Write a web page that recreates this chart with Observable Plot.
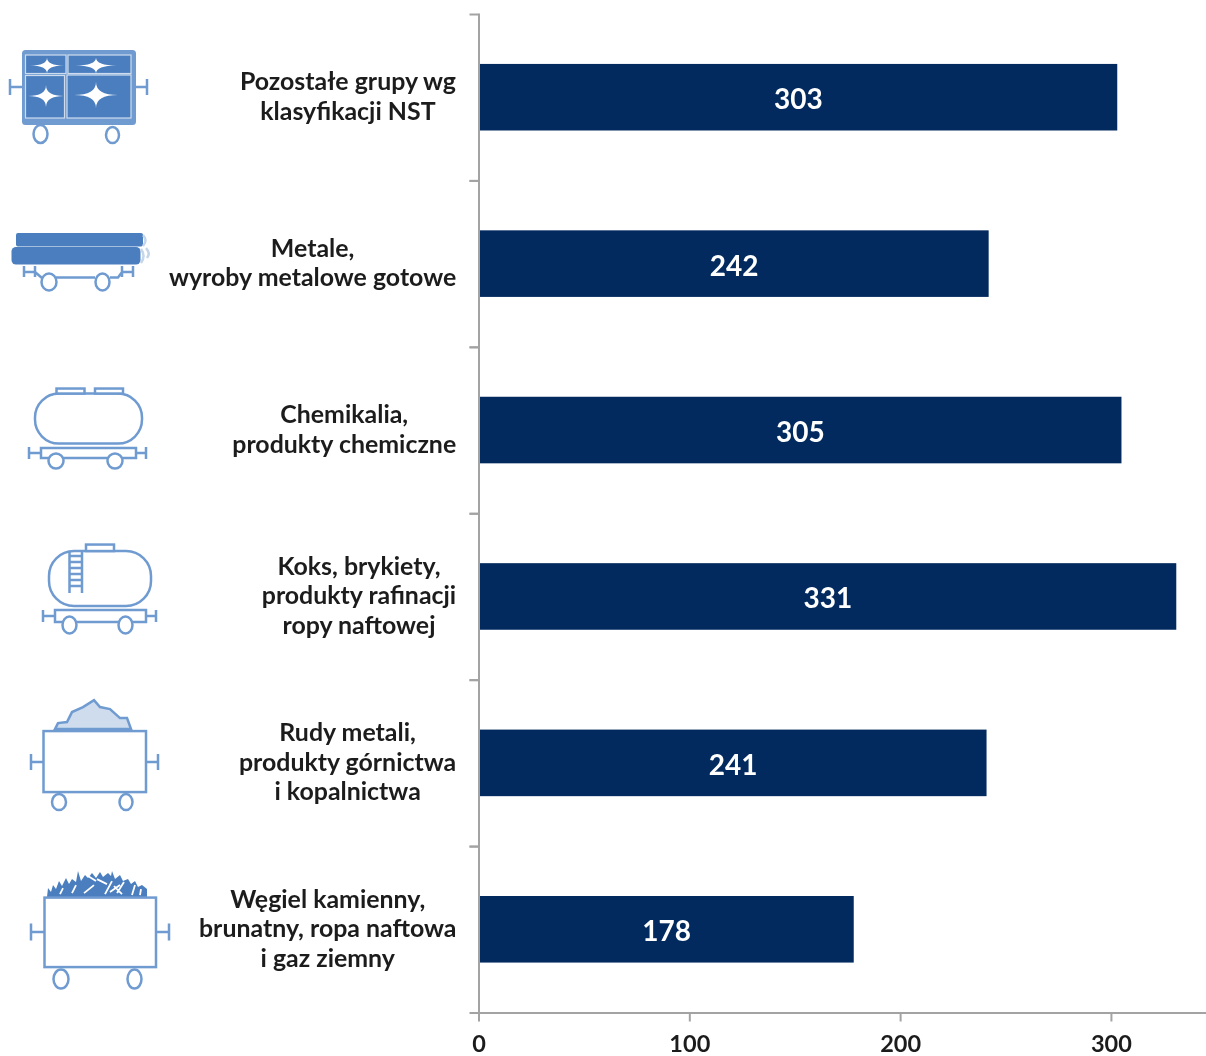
<!DOCTYPE html>
<html><head><meta charset="utf-8">
<script src="https://cdn.jsdelivr.net/npm/d3@7"></script>
<script src="https://cdn.jsdelivr.net/npm/@observablehq/plot@0.6"></script>
<style>html,body{margin:0;padding:0;background:#fff}svg{display:block;filter:blur(0.45px)}</style>
</head><body><div id="chart"></div>
<script>
const categories = ["other","metals","chem","coke","ore","coal"];
const values = [303,242,305,331,241,178];
const labelLines = [
  ["Pozostałe grupy wg","klasyfikacji NST"],
  ["Metale,","wyroby metalowe gotowe"],
  ["Chemikalia,","produkty chemiczne"],
  ["Koks, brykiety,","produkty rafinacji","ropy naftowej"],
  ["Rudy metali,","produkty górnictwa","i kopalnictwa"],
  ["Węgiel kamienny,","brunatny, ropa naftowa","i gaz ziemny"]
];
const xTicks = [0,100,200,300];

const FONT = "Lato, Carlito, sans-serif";
const L = "#6f9bd1", D = "#4a7ebf";
const wheel = (x,y,rx,ry)=>`<ellipse cx="${x}" cy="${y}" rx="${rx}" ry="${ry}" fill="#fff"/>`;
const coupler = (x0,x1,y,h)=>`<path d="M${x0} ${y}H${x1}M${x0} ${y-h}V${y+h}"/>`;
const star = (x,y,a,b)=>`<path fill="#fff" stroke="none" d="M${x-a} ${y}Q${x} ${y} ${x} ${y-b}Q${x} ${y} ${x+a} ${y}Q${x} ${y} ${x} ${y+b}Q${x} ${y} ${x-a} ${y}Z"/>`;
const panel = (x,y,w,h)=>`<rect x="${x}" y="${y}" width="${w}" height="${h}" fill="${D}" stroke="#cfdcee" stroke-width="1.2"/>`;
const icons = {
  other:[97.2,`<rect x="23.5" y="51.5" width="111" height="72" rx="2" fill="${L}" stroke-width="3"/>${panel(25.5,55,40.5,18.5)}${panel(68,55,63,18.5)}${panel(25.5,75.5,39,42.5)}${panel(67,75,64,43)}
    ${star(47,65.5,17,8)}${star(96,65.5,21,8)}${star(46,96,18,11)}${star(96,95,22,13)}
    ${coupler(10,23,87,8)}${coupler(147,135,87,8)}${wheel(40.5,134,7,9)}${wheel(112.5,135,6.5,8)}`],
  metals:[263.6,`<rect x="16" y="233" width="127" height="13.5" rx="2" fill="${D}" stroke="none"/>
    <rect x="11.5" y="247" width="129" height="17.5" rx="4.5" fill="${D}" stroke="none"/>
    <path fill="none" stroke="#c5d5ea" d="M143 235Q148 240 143 246M141 249Q146 256 141 263M146 248Q151 253 147 258"/>
    <path fill="none" d="M24 266V277M24 272H35M35 266V277M35 272L42 278M56 277.5H95M110 277.5H118L122 272H133M122 266V277M133 266V277"/>
    ${wheel(49,282,7.5,8.5)}${wheel(102.5,282,7,8.5)}`],
  chem:[430,`<rect x="35" y="393.5" width="107" height="50" rx="24"  fill="#fff"/>
    <rect x="56.5" y="388.5" width="28" height="5"  fill="#fff"/><rect x="95" y="388.5" width="28" height="5"  fill="#fff"/>
    <path fill="none" d="M41 448H136V458H41ZM29 453H41M136 453H146M29 447V459M146 447V459"/>
    ${wheel(56,461,7.5,7.5)}${wheel(115,461,7.5,7.5)}`],
  coke:[596.4,`<rect x="49" y="551" width="102" height="55" rx="25" fill="#fff"/>
    <rect x="86" y="544.5" width="28" height="6.5" fill="#fff"/>
    <path fill="none" d="M69.5 552V593M82 552V593M69.5 556H82M69.5 562H82M69.5 568H82M69.5 574H82M69.5 580H82M69.5 586H82"/>
    <path fill="none" d="M55 610H146V622H55ZM43 616H55M146 616H156M43 610V622M156 610V622"/>
    ${wheel(69.5,625,7,8.5)}${wheel(125.5,625,7,8.5)}`],
  ore:[762.8,`<path fill="#cfdcee" d="M55 729L58 723L67 722L72 712L83 707L94 700L100 707L110 709L120 718L127 718L131 729Z"/>
    <rect x="43.5" y="731" width="102.5" height="61" fill="#fff"/>
    ${coupler(31,43,762,8)}${coupler(158,146,762,8)}${wheel(59,802,7,8)}${wheel(126,802,6.5,8)}`],
  coal:[929.2,`<path fill="${D}" stroke="none" d="M47 897L48 888L51 892L53 885L56 889L59 881L62 886L66 878L69 884L72 879L76 882L78 871L81 881L85 875L88 878L92 873L96 878L100 872L103 877L108 873L111 876L112 871L115 879L120 875L123 881L128 879L131 884L135 881L138 887L142 885L147 889L147 897Z"/>
    <path fill="none" stroke="#fff" stroke-width="1.8" d="M84 893L94 885M105 894L112 881M117 893L124 882M97 879L107 884M132 895L135 885M72 893L76 885M110 892L120 885M88 876L96 881M122 894L114 886M60 894L63 888M140 895L141 889"/>
    <rect x="44.5" y="897.5" width="111.5" height="69.5" fill="#fff"/>
    ${coupler(31,44,932,8.5)}${coupler(169,156,932,8.5)}${wheel(61,979,7.5,9.5)}${wheel(134.5,979,7,9.5)}`]
};

const LABEL_SIZE = 24.9, LABEL_WEIGHT = 700;
const ctx = document.createElement("canvas").getContext("2d");
ctx.font = `${LABEL_WEIGHT} ${LABEL_SIZE}px ${FONT}`;
const halfWidest = lines => d3.max(lines, s => ctx.measureText(s).width) / 2;

const rows = categories.map((c,i)=>({c, v:values[i], lines:labelLines[i]}));
const GREY = "#a3a3a3";

const labelMarks = rows.map(r => Plot.text([r], {
  x: () => 0, y: "c", text: d => d.lines.join("\n"),
  textAnchor: "middle", lineAnchor: "middle", lineHeight: 29.4/LABEL_SIZE,
  dx: -22.5 - halfWidest(r.lines), dy: -2,
  fontSize: LABEL_SIZE, fontWeight: LABEL_WEIGHT, fill: "#1c1c1c", fontFamily: FONT
}));

const iconMark = (index, {y}) => {
  const g = d3.create("svg:g").attr("stroke", L).attr("stroke-width", 2.5);
  categories.forEach(c => {
    const [ref, markup] = icons[c];
    g.append("g").attr("transform", `translate(0,${y(c) + y.bandwidth()/2 - ref})`).html(markup);
  });
  return g.node();
};

const chart = Plot.plot({
  width: 1206, height: 1056,
  marginLeft: 478.5, marginRight: 0, marginTop: 14, marginBottom: 43.5,
  style: {background: "#fff", fontFamily: FONT},
  x: {domain: [0, 345.1], label: null},
  y: {domain: categories, paddingInner: 0.6, paddingOuter: 0.3, round: false, label: null},
  marks: [
    Plot.barX(rows, {x: "v", y: "c", fill: "#022a5e"}),
    Plot.frame({anchor: "left", stroke: GREY, strokeWidth: 2}),
    Plot.frame({anchor: "bottom", stroke: GREY, strokeWidth: 2}),
    Plot.axisY({tickSize: 9, tickFormat: () => "", dy: -83.2, stroke: GREY, strokeWidth: 2, label: null}),
    Plot.axisY({tickSize: 9, tickFormat: () => "", dy: 83.2, stroke: GREY, strokeWidth: 2, label: null}),
    Plot.axisX({ticks: xTicks, tickSize: 9, tickPadding: 13, stroke: GREY, strokeWidth: 2, label: null,
      fontSize: 23.5, fontWeight: 700, fill: "#1c1c1c", tickFormat: d3.format("d")}),
    Plot.text(rows, {x: d => d.v/2, y: "c", text: d => String(d.v), fill: "#fff", dy: 2.5,
      fontSize: 28, fontWeight: 700, fontFamily: FONT}),
    ...labelMarks,
    iconMark
  ]
});
document.getElementById("chart").append(chart);
</script></body></html>
